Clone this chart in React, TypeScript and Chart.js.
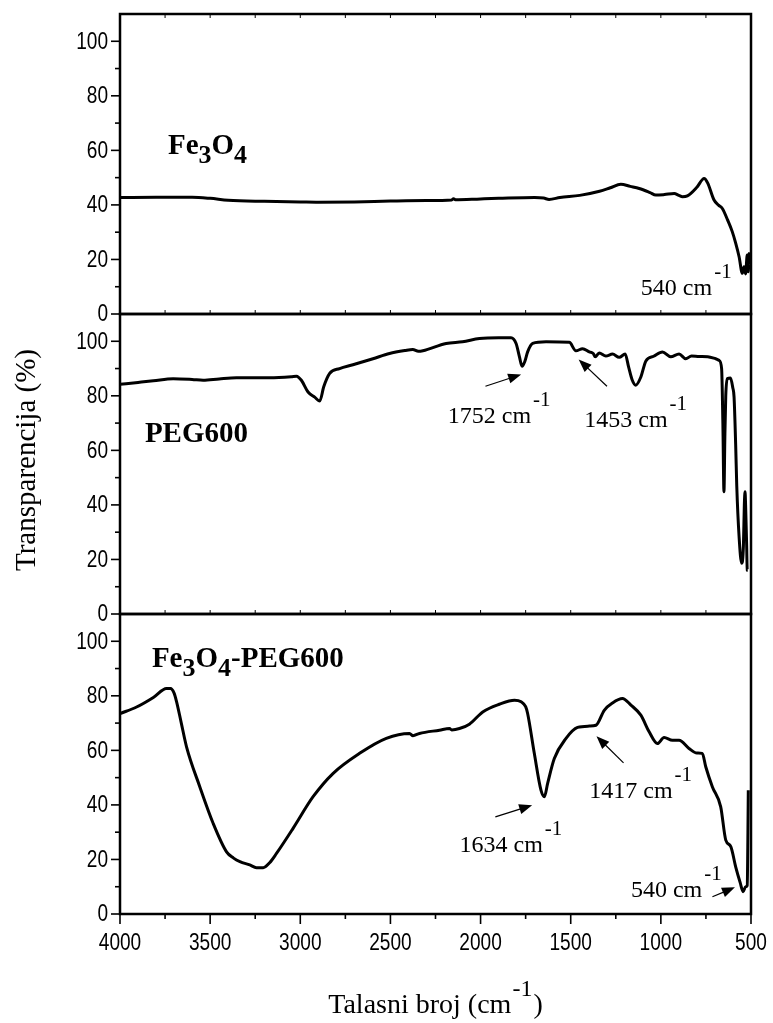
import React, { useEffect, useRef } from 'react';
import { Chart, registerables } from 'chart.js';

Chart.register(...registerables);

// ---------- DATA ----------
// Fe3O4 spectrum (wavenumber cm-1, transmittance %)
const wnFe = [4000, 3800, 3600, 3500, 3400, 3200, 3000, 2900, 2700, 2500, 2300, 2160, 2150, 2140, 2000, 1900, 1700, 1650, 1620, 1560, 1450, 1340, 1280, 1222, 1170, 1120, 1060, 1028, 980, 926, 900, 880, 853, 800, 760, 740, 705, 680, 659, 630, 604, 585, 566, 548, 539, 530, 521, 515, 511, 505];
const tFe = [42.7, 42.8, 42.8, 42.4, 41.7, 41.3, 41.1, 41.0, 41.1, 41.4, 41.6, 41.8, 42.3, 41.9, 42.2, 42.4, 42.7, 42.5, 42.0, 42.7, 43.5, 45.0, 46.3, 47.6, 46.8, 46.0, 44.5, 43.6, 43.8, 44.2, 43.5, 43.0, 43.3, 46.5, 49.7, 48.0, 41.8, 39.9, 38.7, 34.5, 30.2, 26.0, 21.0, 14.9, 17.3, 14.7, 21.6, 15.5, 22.2, 18.0];

// PEG600 spectrum
const wnPeg = [4000, 3900, 3815, 3705, 3600, 3539, 3450, 3354, 3169, 3050, 3021, 2994, 2957, 2920, 2892, 2870, 2837, 2782, 2708, 2597, 2505, 2420, 2376, 2345, 2320, 2191, 2100, 2006, 1900, 1831, 1803, 1785, 1770, 1755, 1739, 1711, 1637, 1508, 1471, 1434, 1397, 1375, 1364, 1342, 1305, 1268, 1231, 1198, 1179, 1160, 1139, 1111, 1083, 1040, 991, 945, 899, 862, 830, 788, 740, 696, 677, 663, 656, 650, 645, 640, 631, 614, 601, 594, 585, 579, 566, 552, 542, 537, 533, 530, 524, 521, 518];
const tPeg = [84.2, 84.9, 85.5, 86.3, 86.0, 85.7, 86.2, 86.6, 86.6, 87.0, 87.2, 85.7, 81.4, 79.5, 78.1, 83.3, 88.2, 90.0, 91.4, 93.6, 95.5, 96.6, 97.0, 96.3, 96.5, 99.2, 99.8, 101.0, 101.3, 101.3, 99.2, 94.5, 90.8, 92.5, 96.1, 99.2, 99.8, 99.6, 96.5, 97.3, 96.1, 95.5, 94.3, 95.7, 94.6, 95.3, 94.1, 95.3, 90.6, 86.0, 83.9, 86.9, 92.8, 94.5, 96.1, 94.3, 95.3, 93.6, 94.6, 94.4, 94.3, 93.6, 93.0, 90.0, 70.0, 44.8, 65.0, 80.0, 86.3, 86.5, 83.0, 79.6, 62.0, 47.0, 28.3, 18.6, 25.0, 40.0, 44.8, 40.0, 25.0, 16.1, 16.0];

// Fe3O4-PEG600 spectrum
const wnComp = [4000, 3908, 3815, 3742, 3720, 3700, 3686, 3660, 3631, 3557, 3483, 3409, 3370, 3335, 3280, 3243, 3206, 3170, 3132, 3040, 2929, 2819, 2671, 2523, 2394, 2375, 2339, 2228, 2172, 2160, 2117, 2062, 1988, 1896, 1812, 1775, 1750, 1739, 1702, 1665, 1646, 1628, 1591, 1526, 1462, 1397, 1360, 1314, 1268, 1213, 1166, 1111, 1065, 1019, 982, 936, 899, 844, 800, 770, 751, 714, 668, 640, 612, 585, 560, 544, 530, 521, 517, 515];
const tComp = [73.5, 75.9, 79.4, 82.7, 82.7, 81.0, 77.8, 70.0, 61.3, 46.6, 33.2, 22.8, 20.5, 19.2, 18.0, 17.0, 17.0, 18.8, 22.2, 31.4, 43.0, 51.5, 58.9, 64.4, 66.2, 65.4, 66.2, 67.4, 68.0, 67.5, 68.0, 69.6, 74.1, 76.9, 78.4, 77.8, 76.0, 73.5, 58.9, 45.4, 43.0, 47.9, 57.0, 64.4, 68.4, 68.9, 69.2, 74.7, 77.4, 79.0, 76.6, 72.9, 66.8, 62.5, 64.7, 63.7, 63.7, 60.7, 59.0, 58.9, 54.0, 46.6, 39.3, 27.1, 24.7, 17.3, 11.5, 8.2, 10.0, 10.4, 30.0, 45.4];

// axis ranges / ticks
const xMin = 500;
const xMax = 4000;
const xMajorStep = 500;
const xMinorStep = 250;
const yMin = 0;
const yMax = 110;
const yMajorStep = 20;
const yMinorStep = 10;
const yLabelMax = 100;

// panel labels (segments: [text, isSubscript])
const panelIds = ['yTop', 'yMid', 'yBot'];
const panelLabels: [string, boolean][][] = [
  [['Fe', false], ['3', true], ['O', false], ['4', true]],
  [['PEG600', false]],
  [['Fe', false], ['3', true], ['O', false], ['4', true], ['-PEG600', false]],
];
const panelLabelPos = [
  { x: 3734, y: 58.6 },
  { x: 3862, y: 63.1 },
  { x: 3823, y: 90.6 },
];

// peak annotations
const peakPanel = ['yTop', 'yMid', 'yMid', 'yBot', 'yBot', 'yBot'];
const peakText = ['540 cm', '1752 cm', '1453 cm', '1634 cm', '1417 cm', '540 cm'];
const peakTextPos = [
  { x: 1111, y: 7.0 },
  { x: 2182, y: 70.1 },
  { x: 1425, y: 68.6 },
  { x: 2117, y: 22.8 },
  { x: 1397, y: 42.7 },
  { x: 1166, y: 6.3 },
];
// arrows: [tailX, tailY, headX, headY] (null = no arrow)
const peakArrows: (number[] | null)[] = [
  null,
  [1973, 83.5, 1775, 87.8],
  [1299, 83.5, 1456, 93.3],
  [1918, 35.6, 1714, 39.9],
  [1207, 55.4, 1357, 65.2],
  [714, 6.3, 589, 9.8],
];

const yTitle = 'Transparencija (%)';
const xTitleMain = 'Talasni broj (cm';
const xTitleSup = '-1';
const xTitleEnd = ')';

// ---------- STYLE ----------
const SERIF = '"Liberation Serif", "Times New Roman", Times, serif';
const TICKFONT = '"Liberation Sans", Arial, sans-serif';
const TICK_SQUEEZE = 0.83;

function toXY(wn: number[], t: number[]) {
  return wn.map((w, i) => ({ x: w, y: t[i] }));
}

const decorPlugin = {
  id: 'decor',
  afterDraw(chart: any) {
    const ctx: CanvasRenderingContext2D = chart.ctx;
    const ca = chart.chartArea;
    const xs = chart.scales.x;
    const panels = panelIds.map((id) => chart.scales[id]);
    ctx.save();
    ctx.strokeStyle = '#000';
    ctx.fillStyle = '#000';

    const line = (x1: number, y1: number, x2: number, y2: number) => {
      ctx.beginPath();
      ctx.moveTo(x1, y1);
      ctx.lineTo(x2, y2);
      ctx.stroke();
    };
    const squeezed = (txt: string, x: number, y: number, align: 'right' | 'center') => {
      ctx.save();
      ctx.translate(x, y);
      ctx.scale(TICK_SQUEEZE, 1);
      ctx.textAlign = align;
      ctx.fillText(txt, 0, 0);
      ctx.restore();
    };

    // y ticks (outward, left) + labels
    ctx.lineWidth = 1.6;
    ctx.font = `23px ${TICKFONT}`;
    ctx.textBaseline = 'middle';
    for (const s of panels) {
      for (let v = yMin; v <= yLabelMax; v += yMinorStep) {
        const y = s.getPixelForValue(v);
        const major = v % yMajorStep === 0;
        line(ca.left - (major ? 9 : 5), y, ca.left, y);
        if (major) squeezed(String(v), ca.left - 12, y + 1, 'right');
      }
    }
    // x ticks bottom (outward) + labels
    ctx.textBaseline = 'alphabetic';
    for (let w = xMin; w <= xMax; w += xMinorStep) {
      const x = xs.getPixelForValue(w);
      const major = w % xMajorStep === 0;
      line(x, ca.bottom, x, ca.bottom + (major ? 10 : 5));
      if (major) squeezed(String(w), x, ca.bottom + 36, 'center');
    }
    // inner small x ticks
    ctx.lineWidth = 1;
    for (let w = xMin + xMinorStep; w < xMax; w += xMinorStep) {
      const x = xs.getPixelForValue(w);
      line(x, panels[0].top, x, panels[0].top + 4);
      line(x, panels[0].bottom, x, panels[0].bottom - 4);
      line(x, panels[1].bottom, x, panels[1].bottom - 4);
    }

    // frames
    ctx.lineWidth = 2.5;
    for (const s of panels) {
      ctx.strokeRect(ca.left, s.top, ca.right - ca.left, s.bottom - s.top);
    }

    // panel labels
    ctx.textBaseline = 'alphabetic';
    ctx.textAlign = 'left';
    panelLabels.forEach((segs, i) => {
      const s = panels[i];
      let x = xs.getPixelForValue(panelLabelPos[i].x);
      const y = s.getPixelForValue(panelLabelPos[i].y);
      for (const [txt, sub] of segs) {
        ctx.font = sub ? `bold 26px ${SERIF}` : `bold 29px ${SERIF}`;
        ctx.fillText(txt, x, sub ? y + 9 : y);
        x += ctx.measureText(txt).width;
      }
    });

    // peak annotations
    peakText.forEach((txt, i) => {
      const s = chart.scales[peakPanel[i]];
      const x = xs.getPixelForValue(peakTextPos[i].x);
      const y = s.getPixelForValue(peakTextPos[i].y);
      ctx.font = `24px ${SERIF}`;
      ctx.fillText(txt, x, y);
      const w = ctx.measureText(txt).width;
      ctx.font = `21px ${SERIF}`;
      ctx.fillText('-1', x + w + 2, y - 17);
      const a = peakArrows[i];
      if (a) {
        const x1 = xs.getPixelForValue(a[0]);
        const y1 = s.getPixelForValue(a[1]);
        const x2 = xs.getPixelForValue(a[2]);
        const y2 = s.getPixelForValue(a[3]);
        const ang = Math.atan2(y2 - y1, x2 - x1);
        const hl = 13;
        const hw = 5;
        ctx.lineWidth = 1.2;
        line(x1, y1, x2 - Math.cos(ang) * hl * 0.8, y2 - Math.sin(ang) * hl * 0.8);
        ctx.beginPath();
        ctx.moveTo(x2, y2);
        ctx.lineTo(x2 - Math.cos(ang) * hl + Math.sin(ang) * hw, y2 - Math.sin(ang) * hl - Math.cos(ang) * hw);
        ctx.lineTo(x2 - Math.cos(ang) * hl - Math.sin(ang) * hw, y2 - Math.sin(ang) * hl + Math.cos(ang) * hw);
        ctx.closePath();
        ctx.fill();
      }
    });

    // y title
    ctx.save();
    ctx.translate(27, (panels[1].top + panels[1].bottom) / 2 - 4);
    ctx.rotate(-Math.PI / 2);
    ctx.font = `29px ${SERIF}`;
    ctx.textAlign = 'center';
    ctx.textBaseline = 'middle';
    ctx.fillText(yTitle, 0, 0);
    ctx.restore();

    // x title
    ctx.textAlign = 'left';
    ctx.textBaseline = 'alphabetic';
    ctx.font = `28px ${SERIF}`;
    const w1 = ctx.measureText(xTitleMain).width;
    const w3 = ctx.measureText(xTitleEnd).width;
    ctx.font = `24px ${SERIF}`;
    const w2 = ctx.measureText(xTitleSup).width;
    const total = w1 + w2 + w3 + 2;
    const cx = (ca.left + ca.right) / 2;
    let tx = cx - total / 2;
    const by = 1013;
    ctx.font = `28px ${SERIF}`;
    ctx.fillText(xTitleMain, tx, by);
    tx += w1 + 1;
    ctx.font = `24px ${SERIF}`;
    ctx.fillText(xTitleSup, tx, by - 17);
    tx += w2 + 1;
    ctx.font = `28px ${SERIF}`;
    ctx.fillText(xTitleEnd, tx, by);

    ctx.restore();
  },
};

function yScale(weight: number) {
  return {
    type: 'linear' as const,
    position: 'left' as const,
    stack: 'panels',
    stackWeight: 1,
    weight,
    min: yMin,
    max: yMax,
    offset: false,
    grid: { display: false, drawTicks: false },
    border: { display: false },
    ticks: { display: false },
    afterFit: (s: any) => {
      s.width = 120;
      s.paddingTop = 0;
      s.paddingBottom = 0;
    },
  };
}

export default function App() {
  const ref = useRef<HTMLCanvasElement | null>(null);
  useEffect(() => {
    if (!ref.current) return;
    const ds = (data: any, yAxisID: string) => ({
      data,
      yAxisID,
      xAxisID: 'x',
      borderColor: '#000',
      borderWidth: 3,
      pointRadius: 0,
      fill: false,
      tension: 0,
      cubicInterpolationMode: 'monotone' as const,
    });
    const chart = new Chart(ref.current, {
      type: 'line',
      data: {
        datasets: [
          ds(toXY(wnFe, tFe), 'yTop'),
          ds(toXY(wnPeg, tPeg), 'yMid'),
          ds(toXY(wnComp, tComp), 'yBot'),
        ],
      },
      options: {
        responsive: false,
        animation: false,
        events: [],
        layout: { padding: { top: 14, right: 22, left: 0, bottom: 0 } },
        plugins: { legend: { display: false }, tooltip: { enabled: false }, title: { display: false } },
        scales: {
          x: {
            type: 'linear',
            position: 'bottom',
            min: xMin,
            max: xMax,
            reverse: true,
            grid: { display: false, drawTicks: false },
            border: { display: false },
            ticks: { display: false },
            afterFit: (s: any) => {
              s.height = 109;
              s.paddingLeft = 0;
              s.paddingRight = 0;
            },
          },
          yTop: yScale(3),
          yMid: yScale(2),
          yBot: yScale(1),
        } as any,
      },
      plugins: [decorPlugin],
    });
    return () => chart.destroy();
  }, []);
  return (
    <div style={{ position: 'absolute', left: 0, top: 0, width: 773, height: 1023, background: '#fff' }}>
      <canvas ref={ref} width={773} height={1023} />
    </div>
  );
}
